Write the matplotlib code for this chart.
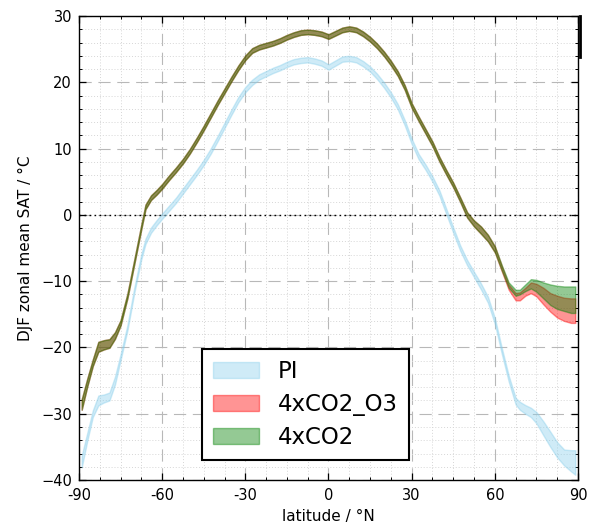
import numpy as np
import matplotlib
matplotlib.use("Agg")
import matplotlib.pyplot as plt

# ---------------- data ----------------
lat = [-89, -87, -85, -83, -81, -79, -77, -75, -72.5, -70, -67.5, -66, -64, -62, -60,
       -57.5, -55, -52.5, -50, -47.5, -45, -42.5, -40, -37.5, -35, -32.5, -30, -27.5,
       -25, -22.5, -20, -17.5, -15, -12.5, -10, -7.5, -5, -2.5, 0, 2.5, 5, 7.5, 10,
       12.5, 15, 17.5, 20, 22.5, 25, 27.5, 30, 32.5, 35, 37.5, 40, 42.5, 45, 47.5, 50,
       52.5, 55, 57.5, 60, 62.5, 65, 67.5, 69, 71, 73, 75, 77.5, 80, 82.5, 85, 87.5, 89]

pi_mid = [-37.2, -33.5, -30.0, -28.0, -27.7, -27.4, -25.0, -21.5, -17.0, -11.3, -6.3, -4.0,
          -2.3, -1.2, -0.2, 1.0, 2.2, 3.6, 5.0, 6.4, 7.9, 9.6, 11.5, 13.5, 15.5, 17.4, 18.9,
          20.0, 20.8, 21.3, 21.8, 22.2, 22.7, 23.1, 23.3, 23.4, 23.2, 22.9, 22.3, 22.9, 23.5,
          23.6, 23.4, 22.8, 22.0, 20.9, 19.6, 18.1, 16.3, 13.9, 11.1, 8.8, 7.2, 5.4, 3.3,
          0.5, -2.3, -5.0, -7.2, -9.0, -10.8, -12.8, -16.0, -20.5, -24.7, -28.1, -28.8,
          -29.35, -29.8, -30.6, -32.2, -33.85, -35.45, -36.6, -37.1, -37.35]
pi_half = [0.9, 0.6, 0.5, 0.75, 0.6, 0.6, 0.6, 0.45, 0.4, 0.4, 0.4, 0.4, 0.4, 0.4, 0.4,
           0.4, 0.4, 0.4, 0.4, 0.4, 0.4, 0.4, 0.4, 0.4, 0.4, 0.4, 0.4, 0.4, 0.4, 0.4, 0.4,
           0.4, 0.4, 0.4, 0.4, 0.4, 0.4, 0.4, 0.4, 0.4, 0.4, 0.4, 0.4, 0.4, 0.4, 0.4, 0.4,
           0.4, 0.4, 0.4, 0.4, 0.4, 0.4, 0.4, 0.4, 0.4, 0.4, 0.4, 0.4, 0.4, 0.45, 0.45,
           0.45, 0.45, 0.45, 0.5, 0.6, 0.65, 0.7, 0.85, 1.05, 1.15, 1.15, 1.2, 1.6, 1.85]

co2_mid = [-28.6, -25.3, -22.3, -19.9, -19.6, -19.4, -18.2, -16.3, -12.2, -7.0, -1.8, 1.2,
           2.6, 3.4, 4.3, 5.6, 6.8, 8.1, 9.6, 11.3, 13.1, 15.0, 16.9, 18.7, 20.5, 22.2, 23.7,
           24.8, 25.3, 25.6, 25.9, 26.3, 26.8, 27.2, 27.5, 27.6, 27.5, 27.3, 26.9, 27.4, 27.9,
           28.1, 27.9, 27.3, 26.5, 25.5, 24.3, 22.9, 21.3, 19.2, 16.5, 14.5, 12.6, 10.7, 8.4,
           6.4, 4.5, 2.3, 0.0, -1.3, -2.3, -3.5, -5.2, -8.0, -10.6, -11.75, -11.65, -11.0,
           -10.4, -10.7, -11.4, -12.05, -12.45, -12.65, -12.8, -12.8]
co2_half = [0.8, 0.6, 0.5, 0.75, 0.7, 0.65, 0.5, 0.4, 0.35, 0.35, 0.35, 0.35, 0.35, 0.35,
            0.35, 0.35, 0.35, 0.35, 0.35, 0.35, 0.35, 0.35, 0.35, 0.35, 0.35, 0.35, 0.35,
            0.35, 0.35, 0.35, 0.35, 0.35, 0.35, 0.35, 0.35, 0.35, 0.35, 0.35, 0.35, 0.35,
            0.35, 0.35, 0.35, 0.35, 0.35, 0.35, 0.35, 0.35, 0.35, 0.35, 0.35, 0.35, 0.35,
            0.35, 0.35, 0.35, 0.35, 0.35, 0.4, 0.45, 0.55, 0.5, 0.45, 0.4, 0.4, 0.45, 0.35,
            0.5, 0.7, 0.9, 1.2, 1.55, 1.75, 1.85, 2.0, 2.0]

o3_mid = co2_mid[:63] + [-8.1, -10.9, -12.35, -12.3, -11.6, -11.0, -11.35, -12.25, -13.2,
                         -13.85, -14.25, -14.45, -14.45]
o3_half = co2_half[:63] + [0.4, 0.4, 0.55, 0.6, 0.6, 0.8, 0.95, 1.25, 1.4, 1.65, 1.75,
                           1.85, 1.85]

series_names = ["PI", "4xCO2_O3", "4xCO2"]
xtick_vals = [-90, -60, -30, 0, 30, 60, 90]
xtick_labels = ["-90", "-60", "-30", "0", "30", "60", "90"]
ytick_vals = [-40, -30, -20, -10, 0, 10, 20, 30]

# ---------------- figure ----------------
fig = plt.figure(figsize=(5.98, 5.30), dpi=100)
ax = fig.add_axes([0.132, 0.0943, 0.8346, 0.8755])

lat_a = np.array(lat)
bands = [
    (np.array(pi_mid), np.array(pi_half), "skyblue", 0.4),
    (np.array(o3_mid), np.array(o3_half), "red", 0.42),
    (np.array(co2_mid), np.array(co2_half), "green", 0.42),
]
for (mid, half, col, al), name in zip(bands, series_names):
    ax.fill_between(lat_a, mid - half, mid + half, facecolor=col, edgecolor=col,
                    alpha=al, linewidth=1.0, label=name, zorder=3)

ax.axhline(0, color="k", linestyle=(0, (1.2, 2.4)), linewidth=1.0, zorder=2)

ax.set_xlim(-90, 90)
ax.set_ylim(-40, 30)
ax.set_xticks(xtick_vals)
ax.set_xticklabels(xtick_labels)
ax.set_yticks(ytick_vals)
ax.set_xticks(np.arange(-90, 90.1, 7.5), minor=True)
ax.set_yticks(np.arange(-40, 30.1, 2), minor=True)

ax.grid(which="major", color="#b8b8b8", linestyle=(0, (11, 6)), linewidth=0.8, zorder=0)
ax.grid(which="minor", color="#d6d6d6", linestyle=(0, (1, 2)), linewidth=0.7, zorder=0)
ax.set_axisbelow(True)

ax.tick_params(which="both", direction="in", top=True, right=True, labelsize=10.5)
ax.tick_params(which="major", length=5, width=0.9)
ax.tick_params(which="minor", length=2.5, width=0.7)
ax.tick_params(axis="y", pad=5)
ax.tick_params(axis="x", pad=6)
for s in ax.spines.values():
    s.set_linewidth(1.0)

ax.set_xlabel("latitude / °N", fontsize=11, labelpad=4)
ax.set_ylabel("DJF zonal mean SAT / °C", fontsize=11, labelpad=6)

# dark mark on the right spine near top (as in the reference)
ax.plot([1.003, 1.003], [0.912, 1.0], transform=ax.transAxes, color="k", lw=2.0,
        clip_on=False, zorder=5)

leg = ax.legend(loc="lower left", bbox_to_anchor=(0.2465, 0.043), fontsize=16.5,
                frameon=True, fancybox=False, framealpha=1, edgecolor="k",
                handlelength=2.0, handleheight=0.7, handletextpad=0.8,
                labelspacing=0.42, borderpad=0.5, borderaxespad=0)
leg.get_frame().set_linewidth(1.5)
leg.set_zorder(6)

fig.savefig("out.png", dpi=100)
